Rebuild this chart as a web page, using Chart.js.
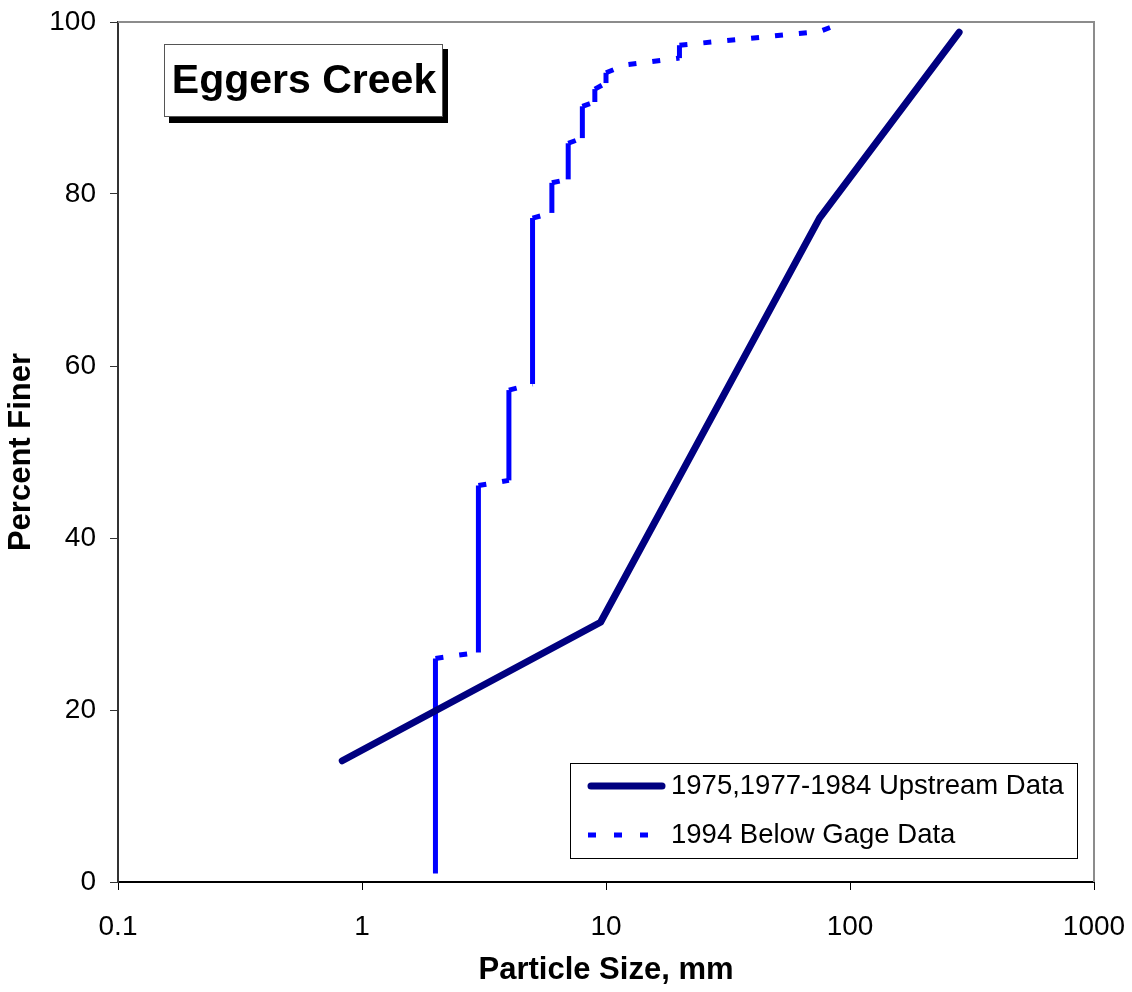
<!DOCTYPE html>
<html>
<head>
<meta charset="utf-8">
<title>Eggers Creek</title>
<script src="https://cdn.jsdelivr.net/npm/chart.js@4.4.1/dist/chart.umd.min.js"></script>
<style>
  body { margin: 0; background: #fff; }
  #wrap { width: 1132px; height: 992px; }
</style>
</head>
<body>
<div id="wrap"><canvas id="gradChart" width="1132" height="992"></canvas></div>
<script>
// 1975,1977-1984 upstream data
const upstreamSize = [0.83, 9.5, 75, 280];
const upstreamFiner = [14.1, 30.2, 77.2, 98.8];

// 1994 below gage data (stepped curve, two points per sieve size)
const gageSize = [2, 2, 3, 3, 4, 4, 5, 5, 6, 6, 7, 7, 8, 8, 9, 9, 10, 10, 12, 20, 20, 75, 95];
const gageFiner = [1, 26.0, 26.7, 46.1, 46.7, 57.2, 57.9, 77.2, 77.8, 81.3, 81.7, 85.9, 86.5, 90.2, 90.7, 92.2, 92.9, 94.1, 95.0, 95.8, 97.3, 98.9, 100];

const xTicks = [0.1, 1, 10, 100, 1000];
const xTickLabels = ['0.1', '1', '10', '100', '1000'];
const yTicks = [0, 20, 40, 60, 80, 100];

const chartTitle = 'Eggers Creek';
const seriesLabels = ['1975,1977-1984 Upstream Data', '1994 Below Gage Data'];

const FONT = '"Liberation Sans", Arial, sans-serif';
const DASH = [8, 16];
const LEGEND_DASH = [8, 18];

const toPoints = (xs, ys) => xs.map((x, i) => ({ x: x, y: ys[i] }));

// gray frame on top/right, title box and legend box
const boxesPlugin = {
    id: 'boxes',
    beforeDatasetsDraw(chart) {
        const { ctx, chartArea: a } = chart;
        ctx.save();
        ctx.strokeStyle = '#8c8c8c';
        ctx.lineWidth = 2;
        ctx.beginPath();
        ctx.moveTo(a.left, a.top);
        ctx.lineTo(a.right, a.top);
        ctx.lineTo(a.right, a.bottom);
        ctx.stroke();
        ctx.restore();
    },
    afterDraw(chart) {
        const ctx = chart.ctx;
        ctx.save();

        // title box with shadow
        ctx.fillStyle = '#000';
        ctx.fillRect(169, 49, 279, 74);
        ctx.fillStyle = '#fff';
        ctx.fillRect(164, 44, 279, 73);
        ctx.strokeStyle = '#555';
        ctx.lineWidth = 1;
        ctx.strokeRect(164.5, 44.5, 278, 72);
        ctx.fillStyle = '#000';
        ctx.font = 'bold 41px ' + FONT;
        ctx.textAlign = 'center';
        ctx.textBaseline = 'middle';
        ctx.fillText(chartTitle, 304, 82);

        // legend
        ctx.fillStyle = '#fff';
        ctx.fillRect(570, 763, 507, 95);
        ctx.strokeStyle = '#000';
        ctx.lineWidth = 1;
        ctx.strokeRect(570.5, 763.5, 507, 95);
        const rows = [786, 835];
        chart.data.datasets.forEach((ds, i) => {
            const y = rows[i];
            const round = ds.borderCapStyle === 'round';
            ctx.beginPath();
            ctx.strokeStyle = ds.borderColor;
            ctx.lineWidth = ds.borderWidth;
            ctx.lineCap = ds.borderCapStyle;
            ctx.setLineDash(ds.borderDash ? LEGEND_DASH : []);
            ctx.moveTo(round ? 591 : 588, y);
            ctx.lineTo(round ? 662 : 660, y);
            ctx.stroke();
            ctx.setLineDash([]);
            ctx.fillStyle = '#000';
            ctx.font = '27.5px ' + FONT;
            ctx.textAlign = 'left';
            ctx.textBaseline = 'middle';
            ctx.fillText(ds.label, 671, y);
        });
        ctx.restore();
    }
};

new Chart(document.getElementById('gradChart'), {
    type: 'line',
    data: {
        datasets: [
            {
                label: seriesLabels[0],
                data: toPoints(upstreamSize, upstreamFiner),
                borderColor: '#000080',
                borderWidth: 7,
                borderCapStyle: 'round',
                borderJoinStyle: 'round',
                pointRadius: 0,
                fill: false
            },
            {
                label: seriesLabels[1],
                data: toPoints(gageSize, gageFiner),
                borderColor: '#0000ff',
                borderWidth: 5,
                borderDash: DASH,
                borderCapStyle: 'butt',
                pointRadius: 0,
                fill: false,
                // vertical risers look solid in the original
                segment: {
                    borderDash: c => c.p0.parsed.x === c.p1.parsed.x ? [] : DASH
                }
            }
        ]
    },
    options: {
        responsive: false,
        animation: false,
        layout: { padding: { top: 22, right: 38, left: 0, bottom: 0 } },
        plugins: {
            legend: { display: false },
            tooltip: { enabled: false }
        },
        scales: {
            x: {
                type: 'logarithmic',
                min: 0.1,
                max: 1000,
                afterFit: s => {
                    s.height = 110;
                    s.paddingLeft = 0;
                    s.paddingRight = 0;
                },
                afterBuildTicks: s => { s.ticks = xTicks.map(v => ({ value: v })); },
                ticks: {
                    autoSkip: false,
                    maxRotation: 0,
                    padding: 20,
                    color: '#000',
                    font: { family: FONT, size: 28 },
                    callback: (v, i) => xTickLabels[i]
                },
                grid: { drawOnChartArea: false, tickLength: 8, color: '#000', lineWidth: 1 },
                border: { display: true, color: '#000', width: 2 },
                title: {
                    display: true,
                    text: 'Particle Size, mm',
                    color: '#000',
                    font: { family: FONT, size: 31, weight: 'bold' },
                    padding: { top: 0, bottom: 3 }
                }
            },
            y: {
                min: 0,
                max: 100,
                afterFit: s => {
                    s.width = 118;
                    s.paddingTop = 0;
                    s.paddingBottom = 0;
                },
                afterBuildTicks: s => { s.ticks = yTicks.map(v => ({ value: v })); },
                ticks: {
                    padding: 14,
                    color: '#000',
                    font: { family: FONT, size: 28 }
                },
                grid: { drawOnChartArea: false, tickLength: 8, color: '#333', lineWidth: 1 },
                border: { display: true, color: '#333', width: 2 },
                title: {
                    display: true,
                    text: 'Percent Finer',
                    color: '#000',
                    font: { family: FONT, size: 31, weight: 'bold' },
                    padding: { top: 3, bottom: 0 }
                }
            }
        }
    },
    plugins: [boxesPlugin]
});
</script>
</body>
</html>
